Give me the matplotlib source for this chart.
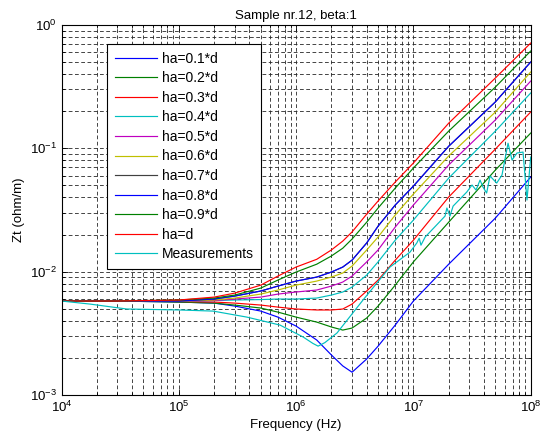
import matplotlib
matplotlib.use('Agg')
import matplotlib.pyplot as plt
from matplotlib.ticker import LogLocator, LogFormatterMathtext, NullFormatter

plt.rcParams['font.family'] = ['Liberation Sans', 'DejaVu Sans']
plt.rcParams['mathtext.fontset'] = 'custom'
plt.rcParams['mathtext.rm'] = 'Liberation Sans'
plt.rcParams['mathtext.it'] = 'Liberation Sans:italic'
plt.rcParams['mathtext.bf'] = 'Liberation Sans:bold'

# ---------------- data ----------------
freq = [1e4, 3e4, 1e5, 2e5, 3e5, 5e5, 7e5, 1e6, 1.5e6, 2e6, 2.5e6, 3e6, 4e6, 5e6, 7e6, 1e7,
        2e7, 5e7, 1e8]

zt_01 = [0.00578, 0.00578, 0.00567, 0.00556, 0.00526, 0.00479, 0.00428, 0.00362, 0.00279, 0.00211,
         0.00172, 0.00153, 0.00196, 0.00249, 0.00369, 0.00578, 0.0115, 0.0272, 0.0585]
zt_02 = [0.00578, 0.00578, 0.00567, 0.00556, 0.00536, 0.00507, 0.00470, 0.00428, 0.00390, 0.00356,
         0.00336, 0.00349, 0.00421, 0.00526, 0.00778, 0.0120, 0.0252, 0.0667, 0.133]
zt_03 = [0.00578, 0.00578, 0.00573, 0.00567, 0.00556, 0.00536, 0.00516, 0.00498, 0.00489, 0.00489,
         0.00498, 0.00546, 0.00697, 0.00855, 0.0124, 0.0180, 0.0403, 0.0987, 0.197]
zt_04 = [0.00578, 0.00578, 0.00578, 0.00583, 0.00589, 0.00594, 0.00600, 0.00600, 0.00611, 0.00646,
         0.00684, 0.00750, 0.00938, 0.0120, 0.0180, 0.0262, 0.0574, 0.138, 0.281]
zt_05 = [0.00578, 0.00578, 0.00578, 0.00583, 0.00600, 0.00622, 0.00658, 0.00684, 0.00710, 0.00764,
         0.00824, 0.00921, 0.0120, 0.0150, 0.0230, 0.0347, 0.0733, 0.170, 0.351]
zt_06 = [0.00578, 0.00578, 0.00578, 0.00589, 0.00611, 0.00658, 0.00710, 0.00778, 0.00839, 0.00904,
         0.00975, 0.0111, 0.0150, 0.0191, 0.0288, 0.0426, 0.0867, 0.197, 0.416]
zt_07 = [0.00578, 0.00578, 0.00578, 0.00600, 0.00634, 0.00697, 0.00764, 0.00839, 0.00904, 0.00993,
         0.0109, 0.0124, 0.0171, 0.0234, 0.0347, 0.0494, 0.104, 0.238, 0.501]
zt_08 = [0.00578, 0.00578, 0.00578, 0.00600, 0.00634, 0.00697, 0.00764, 0.00839, 0.00904, 0.00993,
         0.0109, 0.0124, 0.0171, 0.0234, 0.0347, 0.0494, 0.104, 0.238, 0.501]
zt_09 = [0.00578, 0.00578, 0.00589, 0.00611, 0.00646, 0.00736, 0.00855, 0.00993, 0.0115, 0.0134,
         0.0155, 0.0184, 0.0252, 0.0328, 0.0476, 0.0692, 0.138, 0.314, 0.615]
zt_10 = [0.00578, 0.00578, 0.00589, 0.00622, 0.00670, 0.00778, 0.00921, 0.0109, 0.0126, 0.0150,
         0.0177, 0.0210, 0.0293, 0.0374, 0.0533, 0.0760, 0.160, 0.372, 0.714]

meas_freq = [1e4, 1.75e4, 3.6e4, 1.02e5, 1.96e5, 3.81e5, 7.29e5, 1.15e6, 1.39e6, 1.54e6, 1.76e6,
             2.23e6, 3.72e6, 6.31e6, 9.35e6, 1.07e7, 1.12e7, 1.16e7, 1.26e7, 1.86e7, 1.93e7, 2.05e7,
             2.18e7, 2.85e7, 3.16e7, 3.42e7, 3.70e7, 3.92e7, 4.21e7, 4.50e7, 5.13e7, 5.69e7, 6.41e7,
             6.93e7, 7.64e7, 8.60e7, 9.30e7, 1e8]
meas_zt = [0.00578, 0.00546, 0.00498, 0.00489, 0.00479, 0.00428, 0.00369, 0.00295, 0.00262, 0.00249,
           0.00266, 0.00318, 0.00589, 0.0109, 0.0144, 0.0171, 0.0187, 0.0164, 0.0191, 0.0282,
           0.0328, 0.0282, 0.0340, 0.0442, 0.0504, 0.0459, 0.0553, 0.0485, 0.0434, 0.0596, 0.0523,
           0.0607, 0.110, 0.0804, 0.0916, 0.0933, 0.0381, 0.085]

labels = ['ha=0.1*d', 'ha=0.2*d', 'ha=0.3*d', 'ha=0.4*d', 'ha=0.5*d', 'ha=0.6*d',
          'ha=0.7*d', 'ha=0.8*d', 'ha=0.9*d', 'ha=d', 'Measurements']

colors = [(0, 0, 1), (0, 0.5, 0), (1, 0, 0), (0, 0.75, 0.75), (0.75, 0, 0.75),
          (0.75, 0.75, 0), (0.25, 0.25, 0.25), (0, 0, 1), (0, 0.5, 0), (1, 0, 0), (0, 0.75, 0.75)]

# ---------------- plot ----------------
fig = plt.figure(figsize=(5.52, 4.46), dpi=100)
ax = fig.add_axes([61.5 / 552, 51 / 446, 469.2 / 552, 370 / 446])

series = [zt_01, zt_02, zt_03, zt_04, zt_05, zt_06, zt_07, zt_08, zt_09, zt_10]
for z, lab, c in zip(series, labels[:10], colors[:10]):
    ax.plot(freq, z, color=c, lw=0.85, label=lab)
ax.plot(meas_freq, meas_zt, color=colors[10], lw=0.85, label=labels[10])

ax.set_xscale('log')
ax.set_yscale('log')
ax.set_xlim(1e4, 1e8)
ax.set_ylim(1e-3, 1)

ax.xaxis.set_major_locator(LogLocator(base=10, numticks=10))
ax.yaxis.set_major_locator(LogLocator(base=10, numticks=10))
ax.xaxis.set_minor_locator(LogLocator(base=10, subs=range(2, 10), numticks=20))
ax.yaxis.set_minor_locator(LogLocator(base=10, subs=range(2, 10), numticks=20))
ax.xaxis.set_major_formatter(LogFormatterMathtext())
ax.yaxis.set_major_formatter(LogFormatterMathtext())
ax.xaxis.set_minor_formatter(NullFormatter())
ax.yaxis.set_minor_formatter(NullFormatter())

ax.grid(True, which='both', color='0.15', linestyle=(0, (4.5, 3)), linewidth=0.6)
ax.set_axisbelow(True)
ax.tick_params(which='both', direction='in', top=True, right=True, labelsize=9.5, width=0.6)
ax.tick_params(which='major', length=4)
ax.tick_params(which='minor', length=2.5)
for s in ax.spines.values():
    s.set_linewidth(0.8)

ax.set_title('Sample nr.12, beta:1', fontsize=9.5, pad=4)
ax.set_xlabel('Frequency (Hz)', fontsize=9.5, labelpad=3)
ax.set_ylabel('Zt (ohm/m)', fontsize=9.5, labelpad=3)

leg = ax.legend(loc='upper left', bbox_to_anchor=(0.0976, 0.9486), borderaxespad=0,
                fontsize=10, frameon=True, fancybox=False, framealpha=1, edgecolor='k',
                handlelength=3.0, handletextpad=0.36, labelspacing=0.4, borderpad=0.55)
leg.get_frame().set_linewidth(0.8)

fig.savefig('out.png', dpi=100)
